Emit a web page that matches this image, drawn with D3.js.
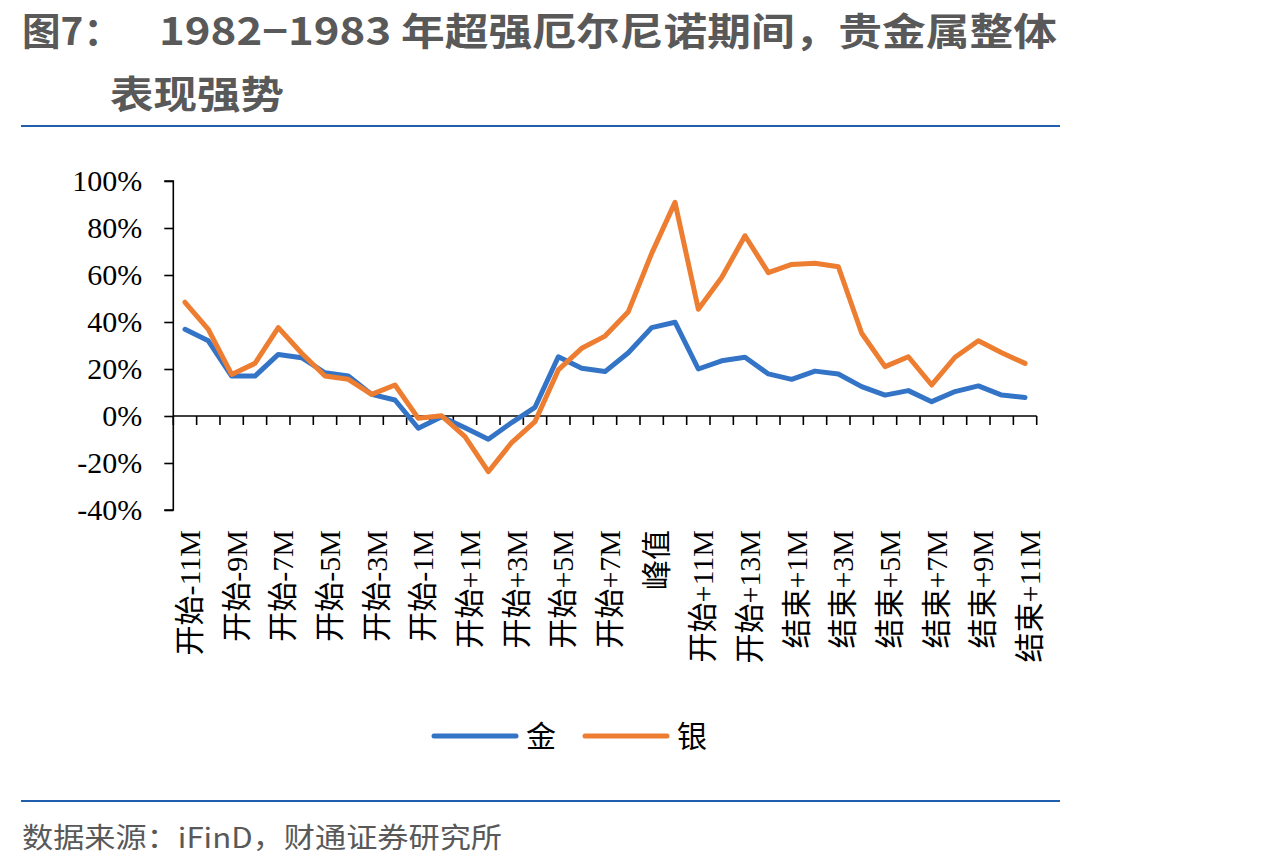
<!DOCTYPE html>
<html>
<head>
<meta charset="utf-8">
<script src="https://cdn.jsdelivr.net/npm/d3@7"></script>
<style>
  body { margin: 0; background: #fff; }
  svg { display: block; }
  .serif { font-family: "Liberation Serif", "Noto Sans CJK SC", serif; }
</style>
</head>
<body>
<svg id="chart" width="1274" height="868"></svg>
<script>
// categories (months relative to the El Nino start / end)
const categories = [
  "开始-11M", "开始-10M", "开始-9M", "开始-8M", "开始-7M", "开始-6M",
  "开始-5M", "开始-4M", "开始-3M", "开始-2M", "开始-1M", "开始",
  "开始+1M", "开始+2M", "开始+3M", "开始+4M", "开始+5M", "开始+6M",
  "开始+7M", "开始+8M", "峰值", "开始+10M", "开始+11M", "开始+12M",
  "开始+13M", "结束", "结束+1M", "结束+2M", "结束+3M", "结束+4M",
  "结束+5M", "结束+6M", "结束+7M", "结束+8M", "结束+9M", "结束+10M",
  "结束+11M"
];

// percent returns
const gold = [
  36.9, 32.0, 17.0, 17.0, 26.2, 24.8, 18.4, 17.0, 9.2, 6.8, -5.2, -0.3,
  -5.0, -9.9, -2.8, 3.7, 25.2, 20.3, 18.9, 26.9, 37.6, 39.9, 20.0, 23.5,
  25.0, 17.9, 15.6, 19.1, 17.9, 12.5, 8.9, 10.8, 6.1, 10.4, 12.8, 8.9, 7.9
];
const silver = [
  48.4, 36.9, 17.7, 22.4, 37.6, 26.7, 17.0, 15.6, 9.2, 13.2, -1.0, 0.1,
  -8.8, -23.7, -11.3, -2.4, 19.6, 28.8, 34.0, 44.4, 69.2, 90.9, 45.4, 58.9,
  76.7, 61.0, 64.5, 65.0, 63.5, 35.2, 21.0, 25.2, 13.2, 25.0, 32.0, 26.9, 22.4
];

const yTicks = [-40, -20, 0, 20, 40, 60, 80, 100];
const seriesNames = ["金", "银"];
const seriesColors = ["#3474c6", "#ed7d31"];

const svg = d3.select("#chart");

// title
const title = svg.append("g")
  .attr("font-family", "'Noto Sans CJK SC', sans-serif")
  .attr("font-weight", "bold")
  .attr("font-size", 38)
  .attr("fill", "#595959");
title.append("text").attr("x", 22).attr("y", 45)
  .attr("textLength", 100).attr("lengthAdjust", "spacingAndGlyphs")
  .text("图7：");
title.append("text").attr("x", 159).attr("y", 45)
  .attr("textLength", 898).attr("lengthAdjust", "spacingAndGlyphs")
  .text("1982−1983 年超强厄尔尼诺期间，贵金属整体");
title.append("text").attr("x", 110).attr("y", 108)
  .attr("textLength", 174).attr("lengthAdjust", "spacingAndGlyphs")
  .text("表现强势");

// rules
svg.append("line").attr("x1", 21).attr("x2", 1060).attr("y1", 126).attr("y2", 126)
  .attr("stroke", "#1f5fad").attr("stroke-width", 2);
svg.append("line").attr("x1", 21).attr("x2", 1060).attr("y1", 801).attr("y2", 801)
  .attr("stroke", "#1f5fad").attr("stroke-width", 2);

// source
svg.append("text")
  .attr("x", 22).attr("y", 848)
  .attr("font-family", "'Noto Sans CJK SC', sans-serif")
  .attr("font-size", 28)
  .attr("fill", "#595959")
  .attr("textLength", 480).attr("lengthAdjust", "spacingAndGlyphs")
  .text("数据来源：iFinD，财通证券研究所");

// scales
const x = d3.scaleBand().domain(categories).range([173.3, 1036.7]);
const y = d3.scaleLinear().domain([-40, 100]).range([510, 181]);

// y axis
const yAxis = svg.append("g")
  .attr("transform", `translate(${x.range()[0]},0)`)
  .call(d3.axisLeft(y).tickValues(yTicks).tickSize(9).tickPadding(22)
    .tickFormat((d) => d + "%"));
yAxis.select(".domain").attr("stroke", "#000").attr("stroke-width", 1.6)
  .attr("d", `M-9,${y(-40)}H0V${y(100)}H-9`);
yAxis.selectAll(".tick line").attr("stroke", "#000").attr("stroke-width", 1.6);
yAxis.selectAll(".tick text")
  .attr("class", "serif")
  .attr("font-size", 30)
  .attr("fill", "#000");

// x axis at 0%
const xg = svg.append("g").attr("transform", `translate(0,${y(0)})`);
xg.append("line")
  .attr("x1", x.range()[0]).attr("x2", x.range()[1])
  .attr("stroke", "#000").attr("stroke-width", 1.6);
xg.selectAll("line.tk")
  .data(d3.range(categories.length + 1))
  .join("line")
  .attr("class", "tk")
  .attr("x1", (i) => x.range()[0] + i * x.step())
  .attr("x2", (i) => x.range()[0] + i * x.step())
  .attr("y1", 0).attr("y2", 9)
  .attr("stroke", "#000").attr("stroke-width", 1.6);

// category labels, every other one
svg.append("g")
  .selectAll("text")
  .data(categories.filter((d, i) => i % 2 === 0))
  .join("text")
  .attr("class", "serif")
  .attr("font-size", 30)
  .attr("text-anchor", "end")
  .attr("dy", "0.4em")
  .attr("transform", (d) => `translate(${x(d) + x.bandwidth() / 2 + 3},530) rotate(-90)`)
  .text((d) => d);

// lines
const line = d3.line()
  .x((d, i) => x(categories[i]) + x.bandwidth() / 2)
  .y((d) => y(d));

svg.selectAll("path.series")
  .data([gold, silver])
  .join("path")
  .attr("class", "series")
  .attr("fill", "none")
  .attr("stroke", (d, i) => seriesColors[i])
  .attr("stroke-width", 5)
  .attr("stroke-linejoin", "round")
  .attr("stroke-linecap", "round")
  .attr("d", line);

// legend
const legend = svg.append("g");
const legendX = [434, 585];
seriesNames.forEach((name, i) => {
  legend.append("line")
    .attr("x1", legendX[i]).attr("x2", legendX[i] + 82)
    .attr("y1", 736).attr("y2", 736)
    .attr("stroke", seriesColors[i]).attr("stroke-width", 5)
    .attr("stroke-linecap", "round");
  legend.append("text")
    .attr("class", "serif")
    .attr("x", legendX[i] + 92).attr("y", 747)
    .attr("font-size", 30)
    .text(name);
});
</script>
</body>
</html>
